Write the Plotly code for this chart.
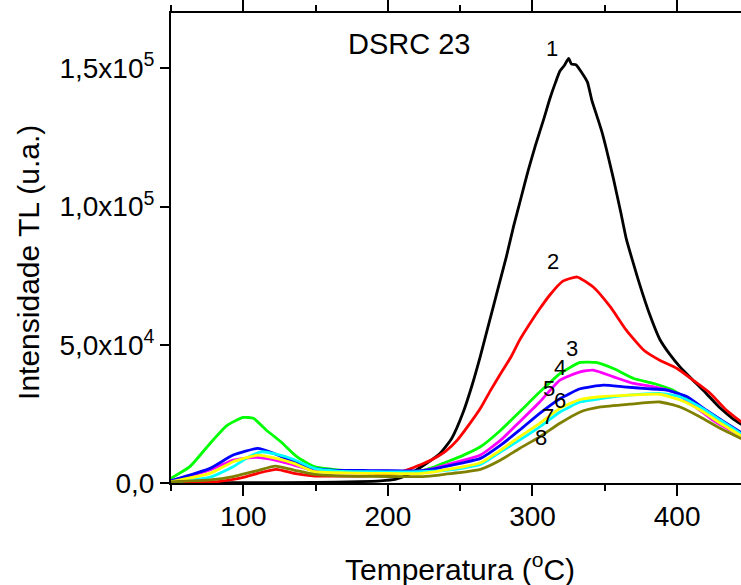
import plotly.graph_objects as go

# ---- data (temperature in °C, intensity in counts) ----
t1 = [50, 100, 150, 180, 195, 205, 212, 218, 225, 236, 244, 252, 258, 264, 270, 276, 282, 287, 292, 297, 302, 308, 312, 316, 319, 322, 325, 327, 330, 334, 338, 341, 345, 348, 351, 356, 361, 365, 370, 374, 381, 388, 395, 402, 411, 420, 430, 438, 445]
i1 = [100, 100, 200, 500, 800, 1300, 2500, 4200, 6500, 10700, 16000, 25500, 35000, 46000, 58000, 70000, 82000, 93000, 103000, 113000, 122000, 132000, 139000, 145000, 149000, 151000, 153600, 151500, 151300, 148500, 145000, 138500, 132000, 127000, 121000, 110000, 98000, 88000, 79000, 72000, 61000, 52000, 46500, 42000, 37200, 32500, 27000, 23500, 21000]

t2 = [50, 80, 93, 100, 110, 123, 135, 148, 165, 190, 205, 215, 222, 230, 240, 248, 256, 264, 271, 278, 285, 291, 298, 305, 312, 321, 331, 342, 354, 365, 377, 388, 400, 411, 423, 434, 445]
i2 = [200, 400, 1300, 2000, 3500, 4900, 3500, 2600, 2500, 2700, 3300, 5000, 6500, 8300, 11500, 15500, 21000, 27000, 33500, 39600, 45500, 51600, 57500, 63000, 68000, 73000, 74500, 70900, 63600, 55200, 48000, 44400, 41400, 37200, 32400, 26400, 21800]

t3 = [50, 63, 77, 89, 100, 107, 116, 126, 137, 149, 165, 188, 211, 222, 232, 240, 252, 264, 278, 291, 305, 319, 333, 344, 356, 370, 384, 397, 411, 425, 439, 445]
i3 = [1700, 5900, 14300, 20900, 23700, 23400, 19100, 14900, 9500, 5900, 4700, 4100, 4100, 4400, 5800, 7500, 10000, 13100, 19100, 25700, 32900, 39600, 43600, 43600, 41400, 37800, 36000, 33600, 28800, 23400, 19100, 17300]

t4 = [50, 77, 93, 109, 122, 135, 149, 165, 188, 211, 222, 232, 240, 252, 264, 278, 291, 305, 319, 333, 342, 356, 370, 384, 397, 411, 425, 439, 445]
i4 = [800, 4700, 8300, 9300, 8300, 6500, 4500, 4300, 4300, 4200, 4300, 5300, 6500, 8200, 10100, 15500, 22100, 29300, 37200, 40200, 40800, 38400, 36000, 34800, 33000, 28200, 22700, 18500, 17000]

t5 = [50, 77, 93, 110, 122, 135, 149, 165, 188, 211, 222, 232, 240, 252, 264, 278, 291, 305, 319, 333, 349, 363, 379, 393, 407, 420, 434, 445]
i5 = [800, 5300, 10100, 12500, 10500, 7700, 5300, 4600, 4500, 4400, 4400, 5100, 6000, 7300, 8900, 13700, 19100, 25200, 30500, 34100, 35400, 34800, 34100, 33600, 31200, 26400, 21600, 18000]

t6 = [50, 77, 93, 104, 113, 122, 135, 149, 165, 188, 211, 222, 232, 240, 252, 264, 278, 291, 305, 319, 333, 347, 367, 388, 402, 416, 430, 445]
i6 = [300, 2100, 5900, 9500, 11300, 10500, 8500, 5300, 4300, 4100, 4000, 4100, 4300, 4600, 5400, 6700, 11300, 15500, 20300, 25700, 29300, 30500, 31800, 32400, 31200, 27500, 22700, 17600]

t7 = [50, 77, 93, 110, 122, 135, 149, 165, 188, 211, 222, 232, 240, 252, 264, 278, 291, 305, 319, 333, 347, 367, 388, 402, 416, 430, 445]
i7 = [500, 3500, 7700, 10100, 9000, 7100, 4100, 3700, 3500, 3400, 3400, 4000, 4800, 5800, 7300, 11900, 16700, 21600, 27000, 30200, 31200, 31800, 32100, 30000, 26400, 21600, 16800]

t8 = [50, 77, 93, 110, 122, 135, 149, 165, 188, 211, 222, 232, 240, 252, 264, 278, 291, 305, 319, 333, 347, 367, 388, 402, 416, 430, 445]
i8 = [400, 1100, 2300, 4500, 6100, 4700, 3100, 2600, 2400, 2300, 2300, 2700, 3200, 3900, 4900, 8300, 12500, 16700, 21600, 25700, 27500, 28500, 29300, 27500, 23900, 19700, 15900]

series_t = [t1, t2, t3, t4, t5, t6, t7, t8]
series_i = [i1, i2, i3, i4, i5, i6, i7, i8]
colors = ["#000000", "#FF0000", "#00FF00", "#FF00FF", "#0000FF", "#00FFFF", "#FFFF00", "#808000"]
curve_labels = ["1", "2", "3", "4", "5", "6", "7", "8"]
label_px = [(552, 47), (553, 261), (572, 348), (560, 367), (549, 388), (560, 400), (548, 416), (541, 437)]

y_tickvals = [0, 50000, 100000, 150000]
y_ticktext = ["0,0", "5,0x10<sup>4</sup>", "1,0x10<sup>5</sup>", "1,5x10<sup>5</sup>"]
x_tickvals = [100, 200, 300, 400]

# ---- layout geometry ----
W, H = 741, 585
L, R, T, B = 171, 0, 11, 102
PW, PH = W - L - R, H - T - B

def px2paper(x, y):
    return (x - L) / PW, (H - B - y) / PH

FONT = "Liberation Sans, Arial, sans-serif"

fig = go.Figure()
for t, i, c in zip(series_t, series_i, colors):
    fig.add_trace(go.Scatter(x=t, y=i, mode="lines",
                             line=dict(color=c, width=2.8, shape="spline", smoothing=0.5),
                             showlegend=False, hoverinfo="skip"))

annotations = []
for lab, (x, y) in zip(curve_labels, label_px):
    px, py = px2paper(x, y)
    annotations.append(dict(x=px, y=py, xref="paper", yref="paper", text=lab, showarrow=False,
                            xanchor="center", yanchor="middle", font=dict(size=22, color="black", family=FONT)))
px, py = px2paper(409, 42)
annotations.append(dict(x=px, y=py, xref="paper", yref="paper", text="DSRC 23", showarrow=False,
                        xanchor="center", yanchor="middle", font=dict(size=29, color="black", family=FONT)))
px, py = px2paper(460, 567)
annotations.append(dict(x=px, y=py, xref="paper", yref="paper", text="Temperatura (<sup>o</sup>C)", showarrow=False,
                        xanchor="center", yanchor="middle", font=dict(size=30, color="black", family=FONT)))
px, py = px2paper(29, 262)
annotations.append(dict(x=px, y=py, xref="paper", yref="paper", text="Intensidade TL (u.a.)", showarrow=False,
                        textangle=-90, xanchor="center", yanchor="middle", font=dict(size=30, color="black", family=FONT)))

fig.update_layout(
    width=W, height=H,
    margin=dict(l=L, r=R, t=T, b=B),
    paper_bgcolor="white", plot_bgcolor="white",
    font=dict(family=FONT, color="black", size=28),
    annotations=annotations,
    xaxis=dict(range=[50, 444.2], tickvals=x_tickvals, ticks="outside", ticklen=11, tickwidth=2,
               tickcolor="black", showline=True, linecolor="black", linewidth=2, mirror="allticks",
               showgrid=False, zeroline=False, tickfont=dict(size=28), ticklabelstandoff=-4,
               minor=dict(tickvals=[50, 150, 250, 350], ticks="outside", ticklen=6, tickwidth=2, tickcolor="black", showgrid=False)),
    yaxis=dict(range=[0, 170000], tickvals=y_tickvals, ticktext=y_ticktext, ticks="outside", ticklen=9,
               tickwidth=2, tickcolor="black", showline=True, linecolor="black", linewidth=2,
               showgrid=False, zeroline=False, tickfont=dict(size=28)),
)

fig.write_html("out.html")
